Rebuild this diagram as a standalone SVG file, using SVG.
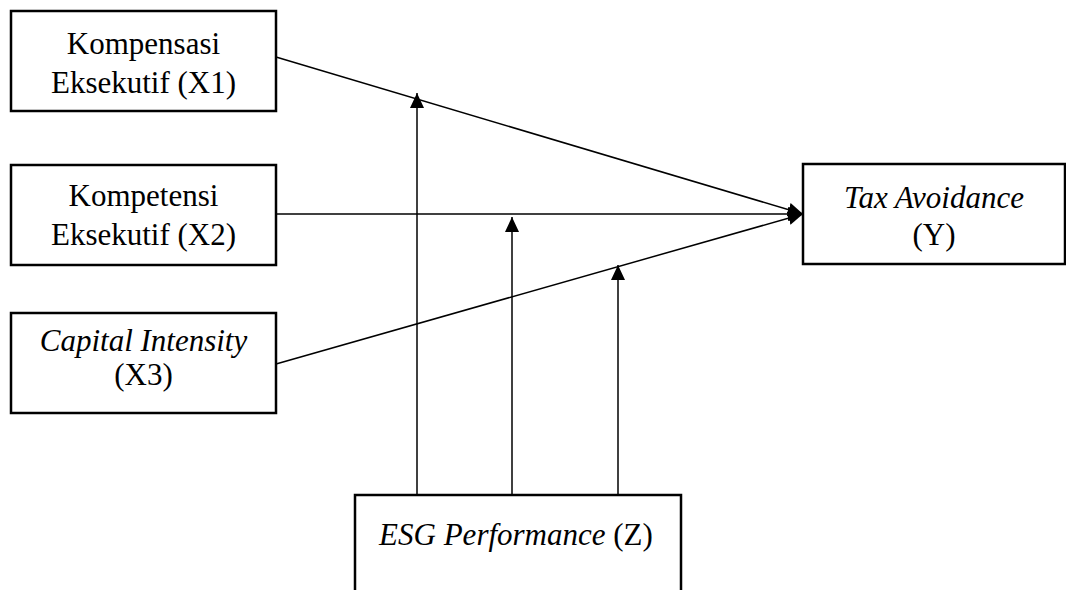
<svg xmlns="http://www.w3.org/2000/svg" width="1066" height="590" viewBox="0 0 1066 590">
<style>
.box{fill:#fff;stroke:#000;stroke-width:2.5}
.t{font-family:"Liberation Serif","Times New Roman",serif;font-size:31px;fill:#000;text-anchor:middle}
.i{font-style:italic}
.c{stroke:#000;stroke-width:1.5;fill:none}
</style>
<defs>
<marker id="ah" viewBox="0 0 15 14" refX="15" refY="7" markerWidth="15" markerHeight="14" markerUnits="userSpaceOnUse" orient="auto">
<path d="M0,0 L15,7 L0,14 Z" fill="#000"/>
</marker>
</defs>
<rect width="1066" height="590" fill="#fff"/>
<g id="connectors">
<line class="c" x1="276" y1="57" x2="803" y2="214" marker-end="url(#ah)"/>
<line class="c" x1="276" y1="214" x2="803" y2="214" marker-end="url(#ah)"/>
<line class="c" x1="276" y1="364" x2="803" y2="214" marker-end="url(#ah)"/>
<line class="c" x1="417" y1="495" x2="417" y2="93" marker-end="url(#ah)"/>
<line class="c" x1="512" y1="495" x2="512" y2="217" marker-end="url(#ah)"/>
<line class="c" x1="618" y1="495" x2="618" y2="265" marker-end="url(#ah)"/>
</g>
<g id="X1">
<rect class="box" x="11" y="11" width="265" height="100"/>
<text class="t" x="143.5" y="54">Kompensasi</text>
<text class="t" x="143.5" y="93">Eksekutif (X1)</text>
</g>
<g id="X2">
<rect class="box" x="11" y="165" width="265" height="100"/>
<text class="t" x="143.5" y="206">Kompetensi</text>
<text class="t" x="143.5" y="245">Eksekutif (X2)</text>
</g>
<g id="X3">
<rect class="box" x="11" y="313" width="265" height="100"/>
<text class="t i" x="143.5" y="351">Capital Intensity</text>
<text class="t" x="143.5" y="385">(X3)</text>
</g>
<g id="Y">
<rect class="box" x="803" y="164" width="262" height="100"/>
<text class="t i" x="934" y="208">Tax Avoidance</text>
<text class="t" x="934" y="245">(Y)</text>
</g>
<g id="Z">
<rect class="box" x="355" y="495" width="326" height="110"/>
<text class="t" x="516" y="545"><tspan class="i">ESG Performance</tspan> (Z)</text>
</g>
</svg>
